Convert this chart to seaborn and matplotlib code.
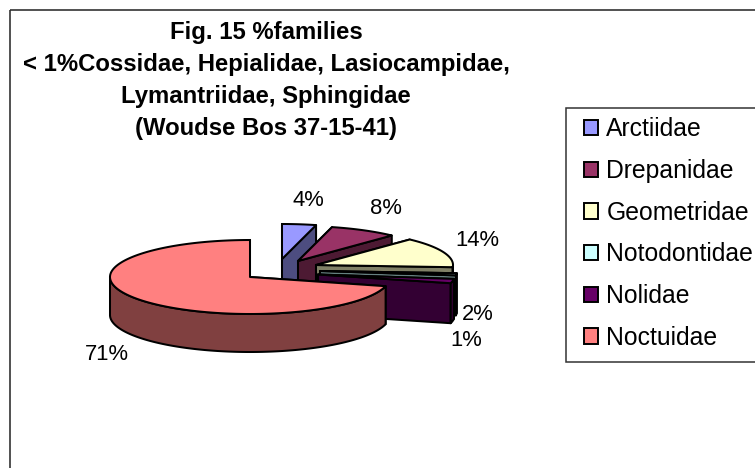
import numpy as np
import matplotlib
matplotlib.use("Agg")
import matplotlib.pyplot as plt
from matplotlib.patches import Polygon, Patch, Rectangle
import seaborn as sns

families = ["Arctiidae", "Drepanidae", "Geometridae", "Notodontidae", "Nolidae", "Noctuidae"]
shares = [4, 8, 14, 1, 2, 71]
top_hex = ["#9999FF", "#993366", "#FFFFCC", "#CCFFFF", "#660066", "#FF8080"]
title_lines = ["Fig. 15 %families",
               "< 1%Cossidae, Hepialidae, Lasiocampidae,",
               "Lymantriidae, Sphingidae",
               "(Woudse Bos 37-15-41)"]

# layout (pixel frame of the 755x468 figure)
apex = [(282, 259), (298, 261), (316, 265), (320, 271), (318, 274.5), (250, 277)]
radii = [(137, 35)] * 5 + [(140, 37)]
depth = [38, 38, 38, 40, 40, 38]
label_pos = [(308, 201), (386, 208), (477, 241), (466, 340), (478, 315), (107, 355)]

sns.set_theme(style="white")
plt.rcParams["font.family"] = ["Liberation Sans", "DejaVu Sans"]
palette = sns.color_palette(top_hex)
shade = [tuple(c * 0.5 for c in col) for col in palette]

fig = plt.figure(figsize=(7.55, 4.68), dpi=100, facecolor="white")
ax = fig.add_axes([0, 0, 1, 1])
ax.set_xlim(0, 755)
ax.set_ylim(468, 0)
ax.axis("off")
ax.add_patch(Rectangle((10, 10), 800, 500, fill=False, ec="#333333", lw=1.2))

LW = 1.45
edges = np.cumsum([0] + shares) * 3.6


def rim(c, r, a, b, dy=0.0):
    t = np.radians(np.linspace(a, b, max(int(abs(b - a)) * 2, 2)))
    return np.column_stack([c[0] + r[0] * np.sin(t), c[1] - r[1] * np.cos(t) + dy])


for i in range(len(shares)):
    a, b = edges[i], edges[i + 1]
    c, r, d = apex[i], radii[i], depth[i]
    for ang in (a, b):
        p = rim(c, r, ang, ang)[0]
        ax.add_patch(Polygon([c, p, (p[0], p[1] + d), (c[0], c[1] + d)],
                             fc=shade[i], ec="black", lw=LW, joinstyle="round"))
    lo, hi = max(a, 90), min(b, 270)
    if lo < hi:
        wall = np.vstack([rim(c, r, lo, hi), rim(c, r, hi, lo, d)])
        ax.add_patch(Polygon(wall, fc=shade[i], ec="black", lw=LW, joinstyle="round"))
    ax.add_patch(Polygon(np.vstack([[c], rim(c, r, a, b)]),
                         fc=palette[i], ec="black", lw=LW, joinstyle="round"))
    ax.text(*label_pos[i], f"{shares[i]}%", ha="center", va="center",
            fontsize=15.8, color="black")

ax.text(266, 80, "\n".join(title_lines), ha="center", va="center",
        fontsize=17.2, fontweight="bold", color="black", linespacing=1.5)

ax.add_patch(Rectangle((566, 108), 300, 254, fc="white", ec="#333333", lw=1.1))
handles = [Patch(fc=palette[i], ec="black", lw=1.4) for i in range(len(shares))]
leg = ax.legend(handles, families, loc="upper left",
                bbox_to_anchor=(584, 117.5), bbox_transform=ax.transData,
                fontsize=17.8, frameon=False, borderaxespad=0, borderpad=0,
                labelspacing=0.714, handlelength=0.57, handleheight=0.57,
                handletextpad=0.33, labelcolor="black")

fig.savefig("out.png", dpi=100)
